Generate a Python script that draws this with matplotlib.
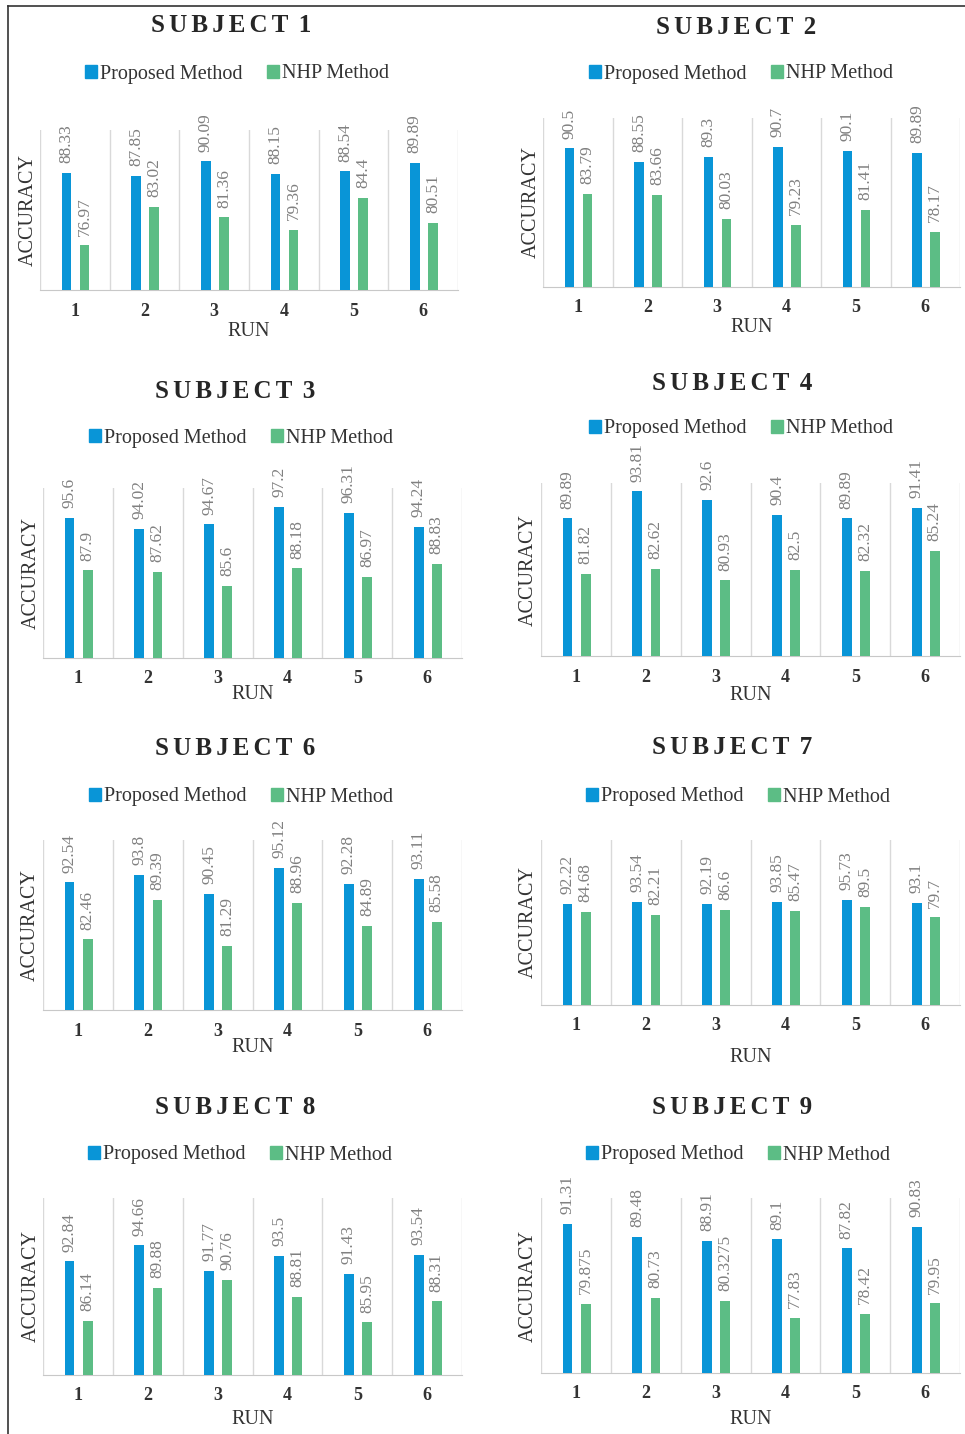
import numpy as np
import matplotlib
matplotlib.use("Agg")
import matplotlib.pyplot as plt
from matplotlib.lines import Line2D
from matplotlib.patches import Patch

plt.rcParams['font.family'] = ['Liberation Serif', 'DejaVu Serif']

runs = [1, 2, 3, 4, 5, 6]
subjects = [1, 2, 3, 4, 6, 7, 8, 9]

proposed_s1 = [88.33, 87.85, 90.09, 88.15, 88.54, 89.89]
nhp_s1 = [76.97, 83.02, 81.36, 79.36, 84.4, 80.51]
proposed_s2 = [90.5, 88.55, 89.3, 90.7, 90.1, 89.89]
nhp_s2 = [83.79, 83.66, 80.03, 79.23, 81.41, 78.17]
proposed_s3 = [95.6, 94.02, 94.67, 97.2, 96.31, 94.24]
nhp_s3 = [87.9, 87.62, 85.6, 88.18, 86.97, 88.83]
proposed_s4 = [89.89, 93.81, 92.6, 90.4, 89.89, 91.41]
nhp_s4 = [81.82, 82.62, 80.93, 82.5, 82.32, 85.24]
proposed_s6 = [92.54, 93.8, 90.45, 95.12, 92.28, 93.11]
nhp_s6 = [82.46, 89.39, 81.29, 88.96, 84.89, 85.58]
proposed_s7 = [92.22, 93.54, 92.19, 93.85, 95.73, 93.1]
nhp_s7 = [84.68, 82.21, 86.6, 85.47, 89.5, 79.7]
proposed_s8 = [92.84, 94.66, 91.77, 93.5, 91.43, 93.54]
nhp_s8 = [86.14, 89.88, 90.76, 88.81, 85.95, 88.31]
proposed_s9 = [91.31, 89.48, 88.91, 89.1, 87.82, 90.83]
nhp_s9 = [79.875, 80.73, 80.3275, 77.83, 78.42, 79.95]

proposed = [proposed_s1, proposed_s2, proposed_s3, proposed_s4,
            proposed_s6, proposed_s7, proposed_s8, proposed_s9]
nhp = [nhp_s1, nhp_s2, nhp_s3, nhp_s4, nhp_s6, nhp_s7, nhp_s8, nhp_s9]
ylims = [(70, 95), (70, 95), (75, 100), (70, 95), (70, 100), (0, 150), (80, 100), (70, 95)]

# layout in pixels of the 965x1434 picture
W, H = 965, 1434
boxes = [(40, 130, 458, 290), (543, 118, 960, 287), (43, 488, 462, 658), (541, 483, 960, 656),
         (43, 840, 462, 1010), (541, 840, 960, 1005), (43, 1198, 462, 1375), (541, 1198, 960, 1373)]
title_xy = [(231, 26), (736, 27), (235, 391), (732, 383), (235, 749), (732, 748), (235, 1108), (732, 1108)]
legend_xy = [(237, 74), (741, 74), (241, 438), (741, 429), (241, 797), (738, 797), (240, 1155), (738, 1155)]
run_y = [332, 328, 695, 695, 1048, 1057, 1420, 1420]
acc_x = [28, 531, 31, 528, 30, 528, 31, 528]

blue = '#0995d7'
green = '#5cbd85'
grid_c = '#d9d9d9'

fig = plt.figure(figsize=(W / 100, H / 100), dpi=100)

def fx(px):
    return px / W

def fy(py):
    return 1 - py / H

x = np.array(runs)
sp = '\u2006'
for i, subj in enumerate(subjects):
    x0, y0, x1, y1 = boxes[i]
    ax = fig.add_axes([fx(x0), fy(y1), (x1 - x0) / W, (y1 - y0) / H])
    ax.bar(x - 0.12, proposed[i], width=0.14, color=blue, zorder=3)
    ax.bar(x + 0.14, nhp[i], width=0.14, color=green, zorder=3)
    for xi, v in zip(x, proposed[i]):
        ax.annotate(f"{v:g}", (xi - 0.12, v), xytext=(0, 7), textcoords='offset points',
                    rotation=90, ha='center', va='bottom', fontsize=12.5, color='#808080')
    for xi, v in zip(x, nhp[i]):
        ax.annotate(f"{v:g}", (xi + 0.14, v), xytext=(0, 7), textcoords='offset points',
                    rotation=90, ha='center', va='bottom', fontsize=12.5, color='#808080')
    ax.set_xlim(0.5, 6.5)
    ax.set_ylim(*ylims[i])
    for b in np.arange(0.5, 7, 1):
        ax.axvline(b, color=grid_c, lw=1, zorder=1)
    for s in ['top', 'left', 'right']:
        ax.spines[s].set_visible(False)
    ax.spines['bottom'].set_color('#c8c8c8')
    ax.set_yticks([])
    ax.set_xticks(x)
    ax.set_xticklabels([str(r) for r in runs], fontweight='bold')
    ax.tick_params(axis='x', length=0, pad=9, labelsize=13, labelcolor='#333333')

    h = y1 - y0
    wdt = x1 - x0
    ax.text(0.5, -(run_y[i] - y1) / h, 'RUN', transform=ax.transAxes, ha='center', va='center',
            fontsize=14.5, color='#333333')
    ax.text((acc_x[i] - x0) / wdt, 0.5, 'ACCURACY', transform=ax.transAxes, rotation=90,
            ha='center', va='center', fontsize=14.5, color='#333333')

    title = sp.join(list("SUBJECT")) + sp + ' ' + str(subj)
    fig.text(fx(title_xy[i][0]), fy(title_xy[i][1]), title, ha='center', va='center',
             fontsize=18, fontweight='bold', color='#262626')

    handles = [Patch(color=blue), Patch(color=green)]
    ax.legend(handles, ['Proposed Method', 'NHP Method'], loc='center', ncol=2,
              bbox_to_anchor=(fx(legend_xy[i][0]), fy(legend_xy[i][1])),
              bbox_transform=fig.transFigure, frameon=False, fontsize=14.5,
              handlelength=0.6, handleheight=0.6, handletextpad=0.15,
              columnspacing=1.2, labelcolor='#333333')

# frame lines at top and left
fig.add_artist(Line2D([fx(8), 1], [fy(6), fy(6)], color='#333333', lw=1.2))
fig.add_artist(Line2D([fx(8), fx(8)], [fy(6), 0], color='#333333', lw=1.2))

fig.savefig("out.png", dpi=100)
